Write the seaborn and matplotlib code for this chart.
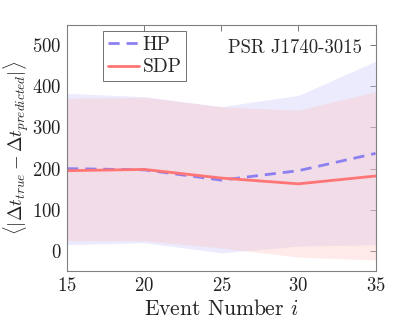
import numpy as np
import pandas as pd
import seaborn as sns
import matplotlib.pyplot as plt

# values
events = [15, 20, 25, 30, 35]
hp_mean = [200, 197, 172, 195, 237]
hp_upper = [383, 375, 351, 378, 461]
hp_lower = [15, 20, -5, 12, 15]
sdp_mean = [195, 198, 177, 163, 182]
sdp_upper = [371, 373, 350, 342, 387]
sdp_lower = [25, 25, 7, -15, -22]

hp_color = '#8c80f0'
sdp_color = '#ff7575'

df = pd.DataFrame({
    'event': events * 2,
    'value': hp_mean + sdp_mean,
    'model': ['HP'] * len(events) + ['SDP'] * len(events),
})

sns.set_style('white')
plt.rcParams['font.family'] = 'serif'
plt.rcParams['font.serif'] = ['cmr10']
plt.rcParams['mathtext.fontset'] = 'cm'
plt.rcParams['axes.formatter.use_mathtext'] = True

fig, ax = plt.subplots(figsize=(4.15, 3.29), dpi=100)
fig.subplots_adjust(left=0.162, right=0.905, top=0.925, bottom=0.175)

ax.fill_between(events, hp_lower, hp_upper, color='#c8c8fa', alpha=0.35, lw=0)
ax.fill_between(events, sdp_lower, sdp_upper, color='#ffc0c0', alpha=0.35, lw=0)

sns.lineplot(data=df, x='event', y='value', hue='model', style='model',
             palette={'HP': hp_color, 'SDP': sdp_color},
             dashes={'HP': (4, 2.5), 'SDP': ''}, lw=2, ax=ax)

ax.set_xlim(15, 35)
ax.set_ylim(-50, 550)
ax.set_xticks([15, 20, 25, 30, 35])
ax.set_yticks([0, 100, 200, 300, 400, 500])
ax.tick_params(direction='in', top=True, right=True, length=4, width=0.6,
               color='#606060', labelsize=13.5, labelcolor='#222222', pad=4)
for s in ax.spines.values():
    s.set_color('#808080')
    s.set_linewidth(0.8)

ax.set_xlabel('Event Number $i$', fontsize=15.5, color='#222222', labelpad=3)
ax.set_ylabel(r'$\langle|\Delta t_{true} - \Delta t_{predicted}|\rangle$',
              fontsize=13.5, color='#222222', va='center')
ax.yaxis.set_label_coords(-0.165, 0.5)

leg = ax.legend(loc='upper left', bbox_to_anchor=(0.115, 0.975), fontsize=14,
                frameon=True, fancybox=False, edgecolor='#333333',
                handlelength=1.6, handletextpad=0.2, borderpad=0.25,
                labelspacing=0.25, borderaxespad=0)
leg.get_frame().set_linewidth(0.6)

ax.text(0.955, 0.905, 'PSR J1740-3015', transform=ax.transAxes, ha='right', va='center',
        fontsize=13.5)

fig.savefig('out.png', dpi=100)
